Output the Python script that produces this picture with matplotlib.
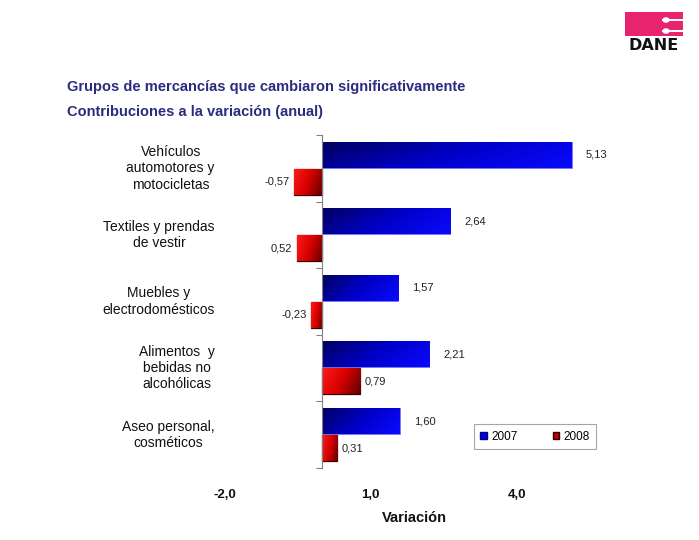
import numpy as np
import matplotlib
matplotlib.use("Agg")
import matplotlib.pyplot as plt
from matplotlib.patches import Rectangle, Circle, Patch
from matplotlib.colors import LinearSegmentedColormap

plt.rcParams['font.family'] = ['Liberation Sans', 'DejaVu Sans']

categories = ["Vehículos\nautomotores y\nmotocicletas",
              "Textiles y prendas\nde vestir",
              "Muebles y\nelectrodomésticos",
              "Alimentos  y\nbebidas no\nalcohólicas",
              "Aseo personal,\ncosméticos"]
vals_2007 = [5.13, 2.64, 1.57, 2.21, 1.60]
vals_2008 = [-0.57, -0.52, -0.23, 0.79, 0.31]
labels_2007 = ["5,13", "2,64", "1,57", "2,21", "1,60"]
labels_2008 = ["-0,57", "0,52", "-0,23", "0,79", "0,31"]
series_names = ["2007", "2008"]
xtick_vals = [-2.0, 1.0, 4.0]
xtick_labels = ["-2,0", "1,0", "4,0"]

fig = plt.figure(figsize=(6.99, 5.40), dpi=100)
fig.patch.set_facecolor("white")
ax = fig.add_axes([0.3143, 0.1333, 0.564, 0.6167])
ax.set_facecolor("none")

y = np.arange(len(categories))
h = 0.39
blue_cmap = LinearSegmentedColormap.from_list("b", ["#000060", "#0000c8", "#0a0aff"])
red_cmap = LinearSegmentedColormap.from_list("r", ["#ff1a1a", "#d80000", "#600000"])

bars_b = ax.barh(y - 0.205, vals_2007, height=h, color="#0000e0",
                 edgecolor="#7a7aff", linewidth=0.6, zorder=2)
bars_r = ax.barh(y + 0.2, vals_2008, height=h, color="#d00000",
                 edgecolor="#300000", linewidth=0.9, zorder=2)

xlim = (-2.1, 6.0)
ylim = (4.5, -0.5)

def grad(bar, cmap):
    x0, yb = bar.get_x(), bar.get_y()
    w, hh = bar.get_width(), bar.get_height()
    l, r = min(x0, x0 + w), max(x0, x0 + w)
    u = np.linspace(0, 1, 120)[None, :]
    v = np.linspace(0, 1, 30)[:, None]
    g = 0.75 * u + 0.25 * v
    im = ax.imshow(g, cmap=cmap, extent=(l, r, yb + hh, yb), origin="upper",
                   aspect="auto", zorder=2.5, vmin=0, vmax=1)
    im.set_clip_path(bar)

for b in bars_b:
    grad(b, blue_cmap)
for b in bars_r:
    grad(b, red_cmap)

ax.set_xlim(*xlim)
ax.set_ylim(*ylim)

# value labels
for yi, v, lab in zip(y, vals_2007, labels_2007):
    ax.annotate(lab, (v, yi - 0.205), xytext=(10, 0), textcoords="offset points",
                ha="left", va="center", fontsize=8, color="#222222")
for yi, v, lab in zip(y, vals_2008, labels_2008):
    if v < 0:
        ax.annotate(lab, (v, yi + 0.2), xytext=(-3, 0), textcoords="offset points",
                    ha="right", va="center", fontsize=8, color="#222222")
    else:
        ax.annotate(lab, (v, yi + 0.2), xytext=(3, 0), textcoords="offset points",
                    ha="left", va="center", fontsize=8, color="#222222")

# category labels
for yi, c in zip(y, categories):
    ax.text(-2.2, yi, c, ha="right", va="center", multialignment="center",
            fontsize=10, color="#111111", linespacing=1.2)

# axes styling
for s in ["top", "right", "bottom"]:
    ax.spines[s].set_visible(False)
ax.spines["left"].set_position(("data", 0))
ax.spines["left"].set_color("#808080")
ax.spines["left"].set_linewidth(0.8)
ax.set_yticks(np.arange(-0.5, len(categories) + 0.5, 1.0))
ax.set_yticklabels([])
ax.tick_params(axis="y", direction="out", length=4, color="#808080", width=0.8)
ax.set_xticks(xtick_vals)
ax.set_xticklabels(xtick_labels, fontsize=9.5, fontweight="bold", color="#111111")
ax.tick_params(axis="x", length=0, pad=15)
ax.set_xlabel("Variación", fontsize=10.5, fontweight="bold", color="#111111", labelpad=6)
ax.xaxis.set_label_coords(0.495, -0.13)

# legend
handles = [Patch(facecolor="#0000e0", edgecolor="#000080", label=series_names[0]),
           Patch(facecolor="#c00000", edgecolor="#300000", label=series_names[1])]
leg = fig.legend(handles=handles, ncol=2, loc="upper left",
                 bbox_to_anchor=(0.678, 0.2148), bbox_transform=fig.transFigure,
                 fontsize=8.5, frameon=True, fancybox=False, borderaxespad=0,
                 handlelength=0.55, handleheight=0.55, handletextpad=0.35,
                 columnspacing=3.0, borderpad=0.55)
leg.get_frame().set_edgecolor("#909090")
leg.get_frame().set_linewidth(0.8)

# titles
fig.text(67 / 699, 1 - 87 / 540, "Grupos de mercancías que cambiaron significativamente",
         fontsize=10.5, fontweight="bold", color="#2b2b80", ha="left", va="center")
fig.text(67 / 699, 1 - 112 / 540, "Contribuciones a la variación (anual)",
         fontsize=10.5, fontweight="bold", color="#2b2b80", ha="left", va="center")

# DANE logo
W, H = 699.0, 540.0
def fr(x, y_):
    return (x / W, 1 - y_ / H)
pink = "#e8246e"
fig.patches.append(Rectangle(fr(625, 36), 58 / W, 24 / H, transform=fig.transFigure,
                             facecolor=pink, edgecolor="none"))
for yy in (20, 31):
    fig.patches.append(Rectangle(fr(662, yy + 1.3), 21 / W, 2.6 / H, transform=fig.transFigure,
                                 facecolor="white", edgecolor="none"))
    fig.patches.append(Circle((666 / W, 1 - yy / H), 3.6 / W, transform=fig.transFigure,
                              facecolor="white", edgecolor="none"))
fig.text(654 / W, 1 - 50.5 / H, "DANE", fontsize=11.5, fontweight="bold",
         family="DejaVu Sans", color="#111111", ha="center", va="baseline")

fig.savefig("out.png", dpi=100, facecolor="white")
